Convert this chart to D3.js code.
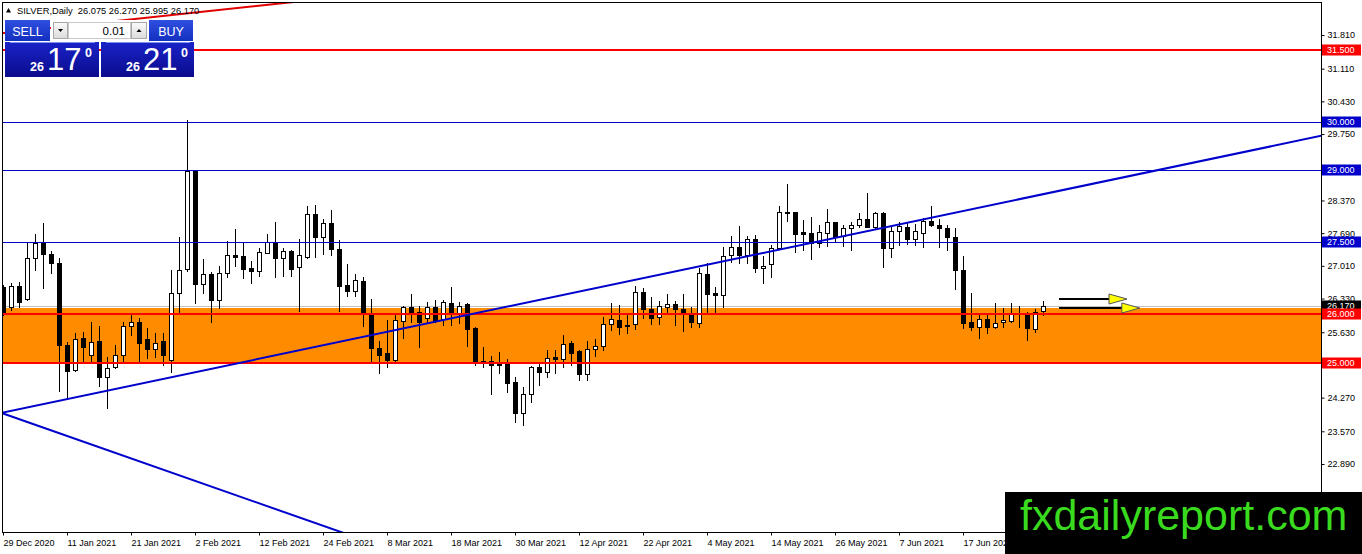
<!DOCTYPE html>
<html>
<head>
<meta charset="utf-8">
<script src="https://cdn.jsdelivr.net/npm/d3@7"></script>
<style>
body { margin: 0; background: #fff; }
svg { display: block; font-family: "Liberation Sans", Arial, sans-serif; }
</style>
</head>
<body>
<div id="chart"></div>
<script>
// daily candles, 29 Dec 2020 .. 1 Jul 2021 (bar 0 .. 130)
const opens = [26.56, 26.155, 26.59, 26.32, 27.18, 27.49, 27.26, 27.07, 25.37, 24.85,
  25.51, 25.16, 25.45, 24.70, 24.91, 25.16, 25.76, 25.84, 25.49, 25.28,
  25.45, 25.05, 26.45, 26.95, 28.98, 26.63, 26.84, 26.30, 26.86, 27.24,
  27.22, 26.97, 26.90, 27.28, 27.51, 27.18, 27.32, 26.99, 27.20, 28.09,
  27.61, 27.90, 27.36, 26.61, 26.49, 26.70, 26.01, 25.30, 25.20, 25.05,
  25.86, 26.16, 26.05, 25.93, 26.16, 25.91, 26.24, 26.03, 26.22, 25.72,
  25.03, 25.03, 24.97, 24.97, 24.60, 23.95, 24.35, 24.91, 24.80, 25.12,
  25.07, 25.41, 25.24, 24.76, 25.28, 25.34, 25.80, 25.89, 25.78, 25.80,
  26.46, 26.11, 25.95, 26.16, 26.22, 26.11, 26.03, 25.82, 26.84, 26.45,
  26.40, 27.24, 27.40, 27.24, 27.57, 26.97, 27.05, 27.38, 28.13, 28.13,
  27.71, 27.69, 27.49, 27.69, 27.92, 27.63, 27.80, 27.86, 27.99, 27.82,
  28.11, 27.38, 27.74, 27.82, 27.57, 27.69, 27.94, 27.86, 27.80, 27.61,
  26.92, 25.84, 25.74, 25.91, 25.74, 25.84, 25.86, 26.03, 26.03, 25.70,
  26.075];
const highs = [26.62, 26.65, 26.68, 27.51, 27.67, 27.90, 27.32, 27.18, 25.43, 25.62,
  25.64, 25.84, 25.76, 25.12, 25.37, 25.84, 26.01, 25.93, 25.72, 25.62,
  25.62, 26.92, 27.61, 30.04, 28.99, 27.15, 26.88, 27.01, 27.53, 27.78,
  27.49, 27.11, 27.38, 27.67, 27.92, 27.38, 27.34, 27.57, 28.26, 28.28,
  27.99, 28.17, 27.55, 27.05, 26.84, 26.78, 26.32, 25.45, 25.89, 26.03,
  26.18, 26.43, 26.18, 26.26, 26.30, 26.30, 26.57, 26.26, 26.24, 25.74,
  25.32, 25.14, 25.22, 25.07, 24.70, 24.49, 24.93, 24.99, 25.26, 25.26,
  25.57, 25.45, 25.26, 25.45, 25.49, 25.95, 26.24, 26.20, 26.03, 26.59,
  26.55, 26.36, 26.28, 26.43, 26.28, 26.43, 26.16, 26.97, 27.07, 26.57,
  27.40, 27.63, 27.84, 27.63, 27.65, 27.22, 27.44, 28.26, 28.71, 28.13,
  27.96, 28.03, 27.86, 28.20, 27.92, 27.86, 27.92, 28.11, 28.52, 28.13,
  28.13, 27.82, 27.92, 27.90, 27.88, 28.01, 28.26, 27.99, 27.86, 27.80,
  27.22, 26.45, 26.03, 25.99, 26.24, 26.14, 26.24, 26.18, 26.05, 26.12,
  26.27];
const lows = [25.98, 26.09, 26.16, 26.30, 26.92, 26.55, 26.86, 24.41, 24.28, 24.83,
  25.01, 25.01, 24.51, 24.06, 24.88, 25.01, 25.57, 25.01, 25.10, 25.12,
  24.95, 24.80, 26.03, 26.90, 26.24, 26.45, 25.84, 26.14, 26.78, 27.01,
  26.76, 26.65, 26.80, 27.28, 26.78, 26.80, 26.80, 26.07, 27.18, 27.20,
  27.26, 27.24, 26.07, 26.38, 26.38, 25.76, 24.99, 24.78, 24.91, 25.01,
  25.51, 25.84, 25.32, 25.84, 25.84, 25.78, 25.78, 25.82, 25.34, 24.95,
  24.91, 24.35, 24.78, 24.39, 23.76, 23.70, 24.18, 24.54, 24.70, 24.78,
  24.91, 24.95, 24.64, 24.64, 25.14, 25.26, 25.68, 25.59, 25.62, 25.70,
  25.93, 25.80, 25.80, 26.03, 25.78, 25.66, 25.74, 25.74, 26.03, 26.03,
  26.16, 27.09, 27.07, 27.07, 26.88, 26.65, 26.78, 27.36, 27.94, 27.30,
  27.34, 27.15, 27.40, 27.42, 27.51, 27.42, 27.34, 27.82, 27.82, 27.80,
  26.99, 27.20, 27.44, 27.46, 27.44, 27.40, 27.84, 27.40, 27.34, 26.53,
  25.72, 25.68, 25.51, 25.62, 25.72, 25.74, 25.84, 25.74, 25.47, 25.64,
  25.995];
const closes = [26.00, 26.59, 26.26, 27.18, 27.49, 27.26, 27.07, 25.37, 24.83, 25.49,
  25.32, 25.43, 24.70, 24.89, 25.16, 25.76, 25.84, 25.41, 25.28, 25.41,
  25.15, 26.45, 26.92, 28.98, 26.63, 26.84, 26.30, 26.86, 27.24, 27.20,
  26.95, 26.90, 27.30, 27.51, 27.18, 27.32, 26.95, 27.24, 28.09, 27.61,
  27.90, 27.36, 26.59, 26.49, 26.72, 26.03, 25.30, 25.16, 25.05, 25.89,
  26.16, 26.05, 25.84, 26.16, 25.86, 26.26, 26.03, 26.18, 25.70, 25.01,
  25.01, 24.95, 24.95, 24.58, 23.95, 24.35, 24.91, 24.80, 25.10, 25.07,
  25.39, 25.20, 24.76, 25.28, 25.34, 25.80, 25.91, 25.74, 25.76, 26.46,
  26.11, 25.93, 26.18, 26.22, 26.11, 26.03, 25.84, 26.86, 26.42, 26.40,
  27.22, 27.40, 27.24, 27.57, 26.97, 27.01, 27.38, 28.13, 28.11, 27.67,
  27.67, 27.49, 27.71, 27.92, 27.61, 27.80, 27.86, 27.99, 27.82, 28.11,
  27.38, 27.74, 27.84, 27.57, 27.74, 27.94, 27.86, 27.80, 27.61, 26.92,
  25.82, 25.74, 25.91, 25.74, 25.82, 25.89, 26.03, 26.01, 25.72, 26.05,
  26.17];

const dateLabels = ["29 Dec 2020", "11 Jan 2021", "21 Jan 2021", "2 Feb 2021", "12 Feb 2021",
  "24 Feb 2021", "8 Mar 2021", "18 Mar 2021", "30 Mar 2021", "12 Apr 2021", "22 Apr 2021",
  "4 May 2021", "14 May 2021", "26 May 2021", "7 Jun 2021", "17 Jun 2021"];
const dateLabelBars = [0, 8, 16, 24, 32, 40, 48, 56, 64, 72, 80, 88, 96, 104, 112, 120];

const priceTicks = [31.81, 31.11, 30.43, 29.75, 29.06, 28.37, 27.69, 27.01, 26.33, 25.63,
  24.95, 24.27, 23.57, 22.89];

// horizontal levels drawn on the chart
const levelPrices = [31.5, 30.0, 29.0, 27.5, 26.0, 25.0];
const levelColours = ["#ff0000", "#0000cd", "#0000cd", "#0000cd", "#ff0000", "#ff0000"];
const levelWidths = [2, 1, 1, 1, 2, 2];
const zoneTop = 26.13;
const zoneBottom = 25.0;
const bidPrice = 26.17;

// trend lines: two anchor bars and prices each
const trendBars = [[0, 130], [0, 42], [0, 36]];
const trendPrices = [[23.96, 28.50], [23.94, 21.49], [31.85, 32.49]];
const trendColours = ["#0000cd", "#0000cd", "#e00000"];

// yellow arrows on the right
const arrowStartBars = [132, 132];
const arrowEndBars = [140.5, 142.1];
const arrowPrices = [26.33, 26.13];

const width = 1362;
const height = 554;
const plotLeft = 2, plotRight = 1321, plotTop = 2, plotBottom = 532;

const x = d3.scaleLinear().domain([0, 130]).range([3, 1043]);
const y = d3.scaleLinear().domain([22.89, 31.81]).range([464, 35]);
const crisp = v => Math.round(v) + 0.5;

const svg = d3.select("#chart")
      .append("svg")
      .attr("width", width)
      .attr("height", height);

const defs = svg.append("defs");
defs.append("clipPath").attr("id", "plot-clip")
    .append("rect")
    .attr("x", plotLeft).attr("y", plotTop)
    .attr("width", plotRight - plotLeft).attr("height", plotBottom - plotTop);

function gradient (id, top, bottom) {
    const g = defs.append("linearGradient").attr("id", id)
        .attr("x1", 0).attr("y1", 0).attr("x2", 0).attr("y2", 1);
    g.append("stop").attr("offset", "0%").attr("stop-color", top);
    g.append("stop").attr("offset", "100%").attr("stop-color", bottom);
}
gradient("head-blue", "#2f4fe0", "#1330c0");
gradient("box-blue", "#1a22c8", "#0a0c8c");
gradient("btn-grey", "#fafafa", "#dcdcdc");

const plot = svg.append("g").attr("clip-path", "url(#plot-clip)");

// orange support zone
plot.append("rect")
    .attr("x", plotLeft)
    .attr("y", Math.round(y(zoneTop)))
    .attr("width", plotRight - plotLeft)
    .attr("height", Math.round(y(zoneBottom)) - Math.round(y(zoneTop)))
    .attr("fill", "#ff8c00");

// bid line
plot.append("line")
    .attr("x1", plotLeft).attr("x2", plotRight)
    .attr("y1", crisp(y(bidPrice))).attr("y2", crisp(y(bidPrice)))
    .attr("stroke", "#c0c0c0").attr("stroke-width", 1);

// candles
const candles = plot.selectAll("g.candle")
      .data(d3.range(opens.length))
      .enter()
      .append("g")
      .attr("class", "candle");

candles.append("line")
    .attr("x1", i => crisp(x(i))).attr("x2", i => crisp(x(i)))
    .attr("y1", i => Math.round(y(highs[i])))
    .attr("y2", i => Math.round(y(lows[i])) + 1)
    .attr("stroke", "#000").attr("stroke-width", 1);

candles.append("rect")
    .attr("x", i => Math.round(x(i)) - 1.5)
    .attr("width", 4)
    .attr("y", i => crisp(y(Math.max(opens[i], closes[i]))))
    .attr("height", i => Math.max(1, Math.round(y(Math.min(opens[i], closes[i]))) - Math.round(y(Math.max(opens[i], closes[i])))))
    .attr("fill", i => closes[i] >= opens[i] ? "#fff" : "#000")
    .attr("stroke", "#000").attr("stroke-width", 1)
    .attr("shape-rendering", "crispEdges");

// horizontal levels
plot.selectAll("line.level")
    .data(levelPrices)
    .enter()
    .append("line")
    .attr("class", "level")
    .attr("x1", plotLeft).attr("x2", plotRight)
    .attr("y1", (d, i) => levelWidths[i] === 1 ? crisp(y(d)) : Math.round(y(d)))
    .attr("y2", (d, i) => levelWidths[i] === 1 ? crisp(y(d)) : Math.round(y(d)))
    .attr("stroke", (d, i) => levelColours[i])
    .attr("stroke-width", (d, i) => levelWidths[i]);

// trend lines, extended both ways and clipped
plot.selectAll("line.trend")
    .data(trendBars)
    .enter()
    .append("line")
    .attr("class", "trend")
    .each(function (b, i) {
        const p = trendPrices[i];
        const slope = (p[1] - p[0]) / (b[1] - b[0]);
        const at = bar => p[0] + slope * (bar - b[0]);
        d3.select(this)
            .attr("x1", x(-5)).attr("y1", y(at(-5)))
            .attr("x2", x(175)).attr("y2", y(at(175)));
    })
    .attr("stroke", (d, i) => trendColours[i])
    .attr("stroke-width", 2);

// arrows
const arrows = plot.selectAll("g.arrow")
      .data(arrowPrices)
      .enter()
      .append("g")
      .attr("class", "arrow");

arrows.append("line")
    .attr("x1", (d, i) => x(arrowStartBars[i]))
    .attr("x2", (d, i) => x(arrowEndBars[i]) - 16)
    .attr("y1", d => Math.round(y(d)))
    .attr("y2", d => Math.round(y(d)))
    .attr("stroke", "#000").attr("stroke-width", 2);

arrows.append("path")
    .attr("d", (d, i) => {
        const tip = x(arrowEndBars[i]);
        const cy = Math.round(y(d));
        return "M" + (tip - 18) + "," + (cy - 5) + "L" + tip + "," + cy + "L" + (tip - 18) + "," + (cy + 5) + "Z";
    })
    .attr("fill", "#ffff00")
    .attr("stroke", "#555").attr("stroke-width", 1);

// frame
svg.append("rect")
    .attr("x", plotLeft + 0.5).attr("y", plotTop + 0.5)
    .attr("width", plotRight - plotLeft).attr("height", plotBottom - plotTop)
    .attr("fill", "none").attr("stroke", "#000").attr("stroke-width", 1);

// price axis
const yAxis = svg.append("g")
      .attr("transform", "translate(" + (plotRight + 0.5) + ",0)")
      .call(d3.axisRight(y).tickValues(priceTicks).tickFormat(d3.format(".3f")).tickSize(3).tickPadding(3));
yAxis.select(".domain").remove();
yAxis.attr("font-family", null).attr("font-size", 9);

// date axis
const xAxis = svg.append("g")
      .attr("transform", "translate(0," + (plotBottom + 0.5) + ")")
      .call(d3.axisBottom(x).tickValues(dateLabelBars).tickFormat((d, i) => dateLabels[i]).tickSize(3).tickPadding(4));
xAxis.select(".domain").remove();
xAxis.attr("font-family", null).attr("font-size", 9);
xAxis.selectAll("text").attr("text-anchor", "start").attr("dx", 0);

// coloured price labels on the axis
const labelPrices = levelPrices.concat([bidPrice]);
const labelColours = levelColours.concat(["#000"]);
const labelOrder = [0, 1, 2, 3, 6, 4, 5];
const priceLabels = svg.selectAll("g.plabel")
      .data(labelOrder)
      .enter()
      .append("g")
      .attr("class", "plabel")
      .attr("transform", k => "translate(" + (plotRight + 1) + "," + Math.round(y(labelPrices[k])) + ")");
priceLabels.append("rect")
    .attr("x", 0).attr("y", -5.5).attr("width", 39).attr("height", 11)
    .attr("fill", k => labelColours[k]);
priceLabels.append("text")
    .attr("x", 5).attr("y", 0).attr("dy", "0.35em")
    .attr("font-size", 9).attr("fill", "#fff")
    .text(k => d3.format(".3f")(labelPrices[k]));

// header
svg.append("path").attr("d", "M6,12.5L8.5,8L11,12.5Z").attr("fill", "#000");
svg.append("text")
    .attr("x", 17).attr("y", 13.5)
    .attr("font-size", 9.3)
    .style("white-space", "pre")
    .text("SILVER,Daily  " + [opens[130], highs[130], lows[130], closes[130]].map(d3.format(".3f")).join(" "));

// one-click trading panel
const panel = svg.append("g");
panel.append("rect").attr("x", 5).attr("y", 20).attr("width", 45).attr("height", 21).attr("fill", "url(#head-blue)");
panel.append("rect").attr("x", 149).attr("y", 20).attr("width", 44).attr("height", 21).attr("fill", "url(#head-blue)");
panel.append("rect").attr("x", 51).attr("y", 20).attr("width", 97).attr("height", 21).attr("fill", "#fff");
panel.append("rect").attr("x", 53.5).attr("y", 22.5).attr("width", 14).attr("height", 16)
    .attr("fill", "url(#btn-grey)").attr("stroke", "#a8a8a8");
panel.append("rect").attr("x", 68.5).attr("y", 22.5).attr("width", 62).attr("height", 16)
    .attr("fill", "#fff").attr("stroke", "#c8c8c8");
panel.append("rect").attr("x", 131.5).attr("y", 22.5).attr("width", 15).attr("height", 16)
    .attr("fill", "url(#btn-grey)").attr("stroke", "#a8a8a8");
panel.append("path").attr("d", "M58,29L63,29L60.5,32Z").attr("fill", "#000");
panel.append("path").attr("d", "M136.5,32L141.5,32L139,29Z").attr("fill", "#000");
panel.append("text").attr("x", 125).attr("y", 35).attr("text-anchor", "end")
    .attr("font-size", 11.5).attr("fill", "#000").text("0.01");
panel.append("text").attr("x", 27.5).attr("y", 35.5).attr("text-anchor", "middle")
    .attr("font-size", 12.5).attr("fill", "#fff").text("SELL");
panel.append("text").attr("x", 171).attr("y", 35.5).attr("text-anchor", "middle")
    .attr("font-size", 12.5).attr("fill", "#fff").text("BUY");

const boxX = [5, 101];
const boxW = [94, 93];
const bigDigits = ["17", "21"];
panel.selectAll("rect.box")
    .data(boxX)
    .enter()
    .append("rect")
    .attr("class", "box")
    .attr("x", d => d).attr("y", 42).attr("width", (d, i) => boxW[i]).attr("height", 35)
    .attr("fill", "url(#box-blue)");
panel.selectAll("line.sep")
    .data(boxX)
    .enter()
    .append("line")
    .attr("x1", d => d + 5).attr("x2", (d, i) => d + boxW[i] - 4)
    .attr("y1", 42.5).attr("y2", 42.5)
    .attr("stroke", "#8090ee").attr("stroke-width", 1);
panel.selectAll("text.small")
    .data(boxX)
    .enter()
    .append("text")
    .attr("x", d => d + 25).attr("y", 71)
    .attr("font-size", 12.5).attr("font-weight", "bold").attr("fill", "#fff")
    .text("26");
panel.selectAll("text.big")
    .data(boxX)
    .enter()
    .append("text")
    .attr("x", d => d + 42).attr("y", 69.5)
    .attr("font-size", 31).attr("fill", "#fff")
    .text((d, i) => bigDigits[i]);
panel.selectAll("text.sup")
    .data(boxX)
    .enter()
    .append("text")
    .attr("x", d => d + 80).attr("y", 57)
    .attr("font-size", 12.5).attr("font-weight", "bold").attr("fill", "#fff")
    .text("0");

// watermark
svg.append("rect")
    .attr("x", 1005).attr("y", 492).attr("width", 357).attr("height", 62)
    .attr("fill", "#000");
svg.append("text")
    .attr("x", 1020).attr("y", 530)
    .attr("font-size", 43)
    .attr("fill", "#3adb1f")
    .text("fxdailyreport.com");
</script>
</body>
</html>
